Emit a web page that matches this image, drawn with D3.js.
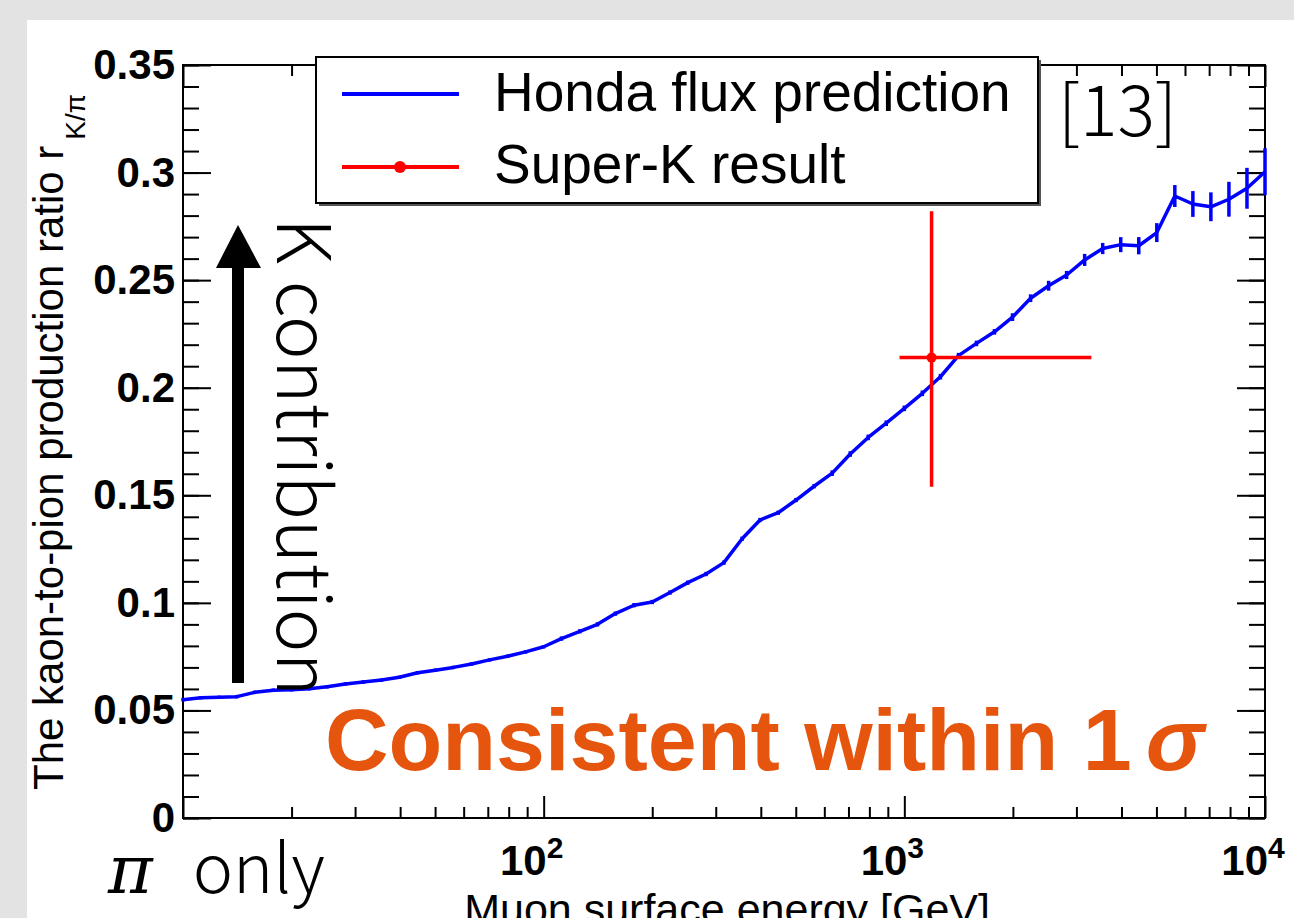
<!DOCTYPE html>
<html>
<head>
<meta charset="utf-8">
<script src="https://cdn.jsdelivr.net/npm/d3@7"></script>
<style>
  body { margin: 0; background: #e3e3e3; }
  svg { display: block; }
</style>
</head>
<body>
<svg width="1294" height="918"></svg>
<script>
// muon surface energy [GeV], Honda prediction points
const energies = [10, 11.2, 12.6, 14.1, 15.8, 17.8, 20.0, 22.4, 25.1, 28.2,
  31.6, 35.5, 39.8, 44.7, 50.1, 56.2, 63.1, 70.8, 79.4, 89.1,
  100, 112, 126, 141, 158, 178, 200, 224, 251, 282,
  316, 355, 398, 447, 501, 562, 631, 708, 794, 891,
  1000, 1122, 1259, 1413, 1585, 1778, 1995, 2239, 2512, 2818,
  3162, 3548, 3981, 4467, 5012, 5623, 6310, 7079, 7943, 8913, 10000];
const hondaRatio = [0.0550, 0.0559, 0.0561, 0.0564, 0.0584, 0.0594, 0.0596, 0.0601, 0.0610, 0.0623,
  0.0632, 0.0641, 0.0654, 0.0675, 0.0687, 0.0700, 0.0716, 0.0735, 0.0752, 0.0772,
  0.0796, 0.0834, 0.0868, 0.0900, 0.0950, 0.0989, 0.1004, 0.1048, 0.1094, 0.1134,
  0.1187, 0.1298, 0.1385, 0.1419, 0.1478, 0.1542, 0.1603, 0.1692, 0.1769, 0.1835,
  0.1904, 0.1974, 0.2051, 0.2149, 0.2206, 0.2260, 0.2328, 0.2416, 0.2474, 0.2524,
  0.2594, 0.2647, 0.2665, 0.2660, 0.2721, 0.2891, 0.2854, 0.2841, 0.2876, 0.2927, 0.3004];
const hondaErr = [0.0008, 0.0008, 0.0008, 0.0008, 0.0008, 0.0008, 0.0008, 0.0008, 0.0008, 0.0008,
  0.0008, 0.0008, 0.0008, 0.0008, 0.0008, 0.0008, 0.0008, 0.0008, 0.0008, 0.0008,
  0.0008, 0.0010, 0.0010, 0.0010, 0.0010, 0.0010, 0.0010, 0.0010, 0.0010, 0.0010,
  0.0010, 0.0010, 0.0010, 0.0010, 0.0010, 0.0010, 0.0013, 0.0013, 0.0013, 0.0013,
  0.0013, 0.0013, 0.0013, 0.0013, 0.0013, 0.0013, 0.0018, 0.0018, 0.0023, 0.0019,
  0.0028, 0.0026, 0.0035, 0.0040, 0.0044, 0.0051, 0.0060, 0.0067, 0.0081, 0.0095, 0.0109];

// Super-K measurement
const skEnergy = [1190];
const skEnergyRange = [[970, 3300]];
const skRatio = [0.214];
const skRatioRange = [[0.154, 0.282]];

const xMajorTicks = [10, 100, 1000, 10000];
const xTickExp = ["1", "2", "3", "4"];
const yMajorTicks = [0, 0.05, 0.1, 0.15, 0.2, 0.25, 0.3, 0.35];
const yTickLabels = ["0", "0.05", "0.1", "0.15", "0.2", "0.25", "0.3", "0.35"];
const yMinorTicks = d3.range(0, 0.351, 0.01);

const svg = d3.select("svg");
const margin = {left: 183, top: 65, right: 1265, bottom: 818};

// white pad
svg.append("rect").attr("x", 27).attr("y", 20).attr("width", 1294 - 27).attr("height", 918 - 20).attr("fill", "#fff");

const x = d3.scaleLog().domain([10, 10000]).range([margin.left, margin.right]);
const y = d3.scaleLinear().domain([0, 0.35]).range([margin.bottom, margin.top]);

const xMinor = [];
[10, 100, 1000].forEach(d => { for (let m = 2; m <= 9; m++) xMinor.push(d * m); });

function styleAxis(g) {
  g.select(".domain").remove();
  g.selectAll("line").attr("stroke", "#000").attr("stroke-width", 2);
}

// bottom / top
svg.append("g").attr("transform", `translate(0,${margin.bottom})`)
  .call(d3.axisBottom(x).tickValues(xMinor).tickSizeInner(-11).tickSizeOuter(0).tickFormat(""))
  .call(styleAxis);
svg.append("g").attr("transform", `translate(0,${margin.bottom})`)
  .call(d3.axisBottom(x).tickValues(xMajorTicks).tickSizeInner(-22).tickSizeOuter(0).tickFormat(""))
  .call(styleAxis);
svg.append("g").attr("transform", `translate(0,${margin.top})`)
  .call(d3.axisTop(x).tickValues(xMinor).tickSizeInner(-11).tickSizeOuter(0).tickFormat(""))
  .call(styleAxis);
svg.append("g").attr("transform", `translate(0,${margin.top})`)
  .call(d3.axisTop(x).tickValues(xMajorTicks).tickSizeInner(-22).tickSizeOuter(0).tickFormat(""))
  .call(styleAxis);

// left / right
svg.append("g").attr("transform", `translate(${margin.left},0)`)
  .call(d3.axisLeft(y).tickValues(yMinorTicks).tickSizeInner(-16).tickSizeOuter(0).tickFormat(""))
  .call(styleAxis);
const yAxisG = svg.append("g").attr("transform", `translate(${margin.left},0)`)
  .call(d3.axisLeft(y).tickValues(yMajorTicks).tickSizeInner(-28).tickSizeOuter(0).tickPadding(8)
    .tickFormat((d, i) => yTickLabels[i]))
  .call(styleAxis);
yAxisG.selectAll("text")
  .attr("font-family", "'Liberation Sans', Arial, sans-serif")
  .attr("font-weight", "bold").attr("font-size", 42).attr("fill", "#000");
svg.append("g").attr("transform", `translate(${margin.right},0)`)
  .call(d3.axisRight(y).tickValues(yMinorTicks).tickSizeInner(-16).tickSizeOuter(0).tickFormat(""))
  .call(styleAxis);
svg.append("g").attr("transform", `translate(${margin.right},0)`)
  .call(d3.axisRight(y).tickValues(yMajorTicks).tickSizeInner(-28).tickSizeOuter(0).tickFormat(""))
  .call(styleAxis);

// frame
svg.append("rect")
  .attr("x", margin.left).attr("y", margin.top)
  .attr("width", margin.right - margin.left).attr("height", margin.bottom - margin.top)
  .attr("fill", "none").attr("stroke", "#000").attr("stroke-width", 2);

// x tick labels 10^n
const xl = svg.append("g").selectAll("text")
  .data(xMajorTicks.slice(1))
  .enter().append("text")
  .attr("x", d => x(d) - 12)
  .attr("y", 875)
  .attr("text-anchor", "middle")
  .attr("font-family", "'Liberation Sans', Arial, sans-serif")
  .attr("font-weight", "bold").attr("font-size", 42);
xl.append("tspan").text("10");
xl.append("tspan").attr("font-size", 30).attr("dy", -17).text((d, i) => xTickExp[i + 1]);

// Honda curve
const pts = energies.map((e, i) => ({e: e, r: hondaRatio[i], err: hondaErr[i]}));
svg.append("path")
  .datum(pts)
  .attr("fill", "none").attr("stroke", "#0000ff").attr("stroke-width", 3.5)
  .attr("stroke-linejoin", "round")
  .attr("d", d3.line().x(d => x(d.e)).y(d => y(d.r)));
svg.append("g").selectAll("line")
  .data(pts)
  .enter().append("line")
  .attr("x1", d => x(d.e)).attr("x2", d => x(d.e))
  .attr("y1", d => y(d.r - d.err)).attr("y2", d => y(d.r + d.err))
  .attr("stroke", "#0000ff").attr("stroke-width", 3.5);

// Super-K point
const sk = svg.append("g");
sk.selectAll("line.h").data(skEnergy).enter().append("line")
  .attr("x1", (d, i) => x(skEnergyRange[i][0])).attr("x2", (d, i) => x(skEnergyRange[i][1]))
  .attr("y1", (d, i) => y(skRatio[i])).attr("y2", (d, i) => y(skRatio[i]))
  .attr("stroke", "#ff0000").attr("stroke-width", 3.5);
sk.selectAll("line.v").data(skEnergy).enter().append("line")
  .attr("x1", d => x(d)).attr("x2", d => x(d))
  .attr("y1", (d, i) => y(skRatioRange[i][0])).attr("y2", (d, i) => y(skRatioRange[i][1]))
  .attr("stroke", "#ff0000").attr("stroke-width", 3.5);
sk.selectAll("circle").data(skEnergy).enter().append("circle")
  .attr("cx", d => x(d)).attr("cy", (d, i) => y(skRatio[i])).attr("r", 5)
  .attr("fill", "#ff0000");

// legend
const lg = svg.append("g");
lg.append("rect").attr("x", 319).attr("y", 60).attr("width", 722).attr("height", 146).attr("fill", "#555");
lg.append("rect").attr("x", 316).attr("y", 57).attr("width", 722).attr("height", 146)
  .attr("fill", "#fff").attr("stroke", "#000").attr("stroke-width", 2);
lg.append("line").attr("x1", 342).attr("x2", 459).attr("y1", 94).attr("y2", 94)
  .attr("stroke", "#0000ff").attr("stroke-width", 4);
lg.append("line").attr("x1", 342).attr("x2", 459).attr("y1", 167).attr("y2", 167)
  .attr("stroke", "#ff0000").attr("stroke-width", 4);
lg.append("circle").attr("cx", 400).attr("cy", 167).attr("r", 6).attr("fill", "#ff0000");
lg.selectAll("text").data(["Honda flux prediction", "Super-K result"])
  .enter().append("text")
  .attr("x", 494).attr("y", (d, i) => 111 + i * 72)
  .attr("font-family", "'Liberation Sans', Arial, sans-serif")
  .attr("font-size", 55).attr("fill", "#000")
  .text(d => d);

// axis titles
const yt = svg.append("text")
  .attr("transform", "translate(63,790) rotate(-90)")
  .attr("font-family", "'Liberation Sans', Arial, sans-serif")
  .attr("font-size", 42).attr("fill", "#000");
yt.append("tspan").text("The kaon-to-pion production ratio r");
yt.append("tspan").attr("font-size", 28).attr("dx", 6).attr("dy", 22).text("K/π");

svg.append("text")
  .attr("x", 990).attr("y", 924)
  .attr("text-anchor", "end")
  .attr("font-family", "'Liberation Sans', Arial, sans-serif")
  .attr("font-size", 43).attr("fill", "#000")
  .text("Muon surface energy [GeV]");

// annotations
const thin = "'Noto Sans CJK JP', 'Noto Sans', sans-serif";
svg.append("text")
  .attr("x", 1177).attr("y", 136)
  .attr("text-anchor", "end")
  .attr("font-family", thin).attr("font-weight", 300)
  .attr("font-size", 70).attr("fill", "#000")
  .text("[13]");

svg.append("text")
  .attr("transform", "translate(277,218) rotate(90)")
  .attr("font-family", thin).attr("font-weight", 300)
  .attr("font-size", 74).attr("fill", "#000")
  .text("K contribution");

// arrow
svg.append("line").attr("x1", 238).attr("x2", 238).attr("y1", 683).attr("y2", 262)
  .attr("stroke", "#000").attr("stroke-width", 12);
svg.append("path")
  .attr("d", d3.line()([[216, 268], [238, 225], [261, 268]]) + "Z")
  .attr("fill", "#000");

const po = svg.append("text")
  .attr("x", 108).attr("y", 893)
  .attr("font-family", thin).attr("font-weight", 300)
  .attr("font-size", 68).attr("fill", "#000");
po.append("tspan").attr("font-style", "italic").attr("font-family", "'DejaVu Serif', serif").text("π");
po.append("tspan").attr("dx", 40).text("only");

const cw = svg.append("text")
  .attr("x", 325).attr("y", 770)
  .attr("font-family", "'Liberation Sans', Arial, sans-serif")
  .attr("font-weight", "bold").attr("font-size", 88).attr("fill", "#e6550d");
cw.append("tspan").text("Consistent within 1");
cw.append("tspan").attr("dx", 14).attr("font-style", "italic").text("σ");
</script>
</body>
</html>
